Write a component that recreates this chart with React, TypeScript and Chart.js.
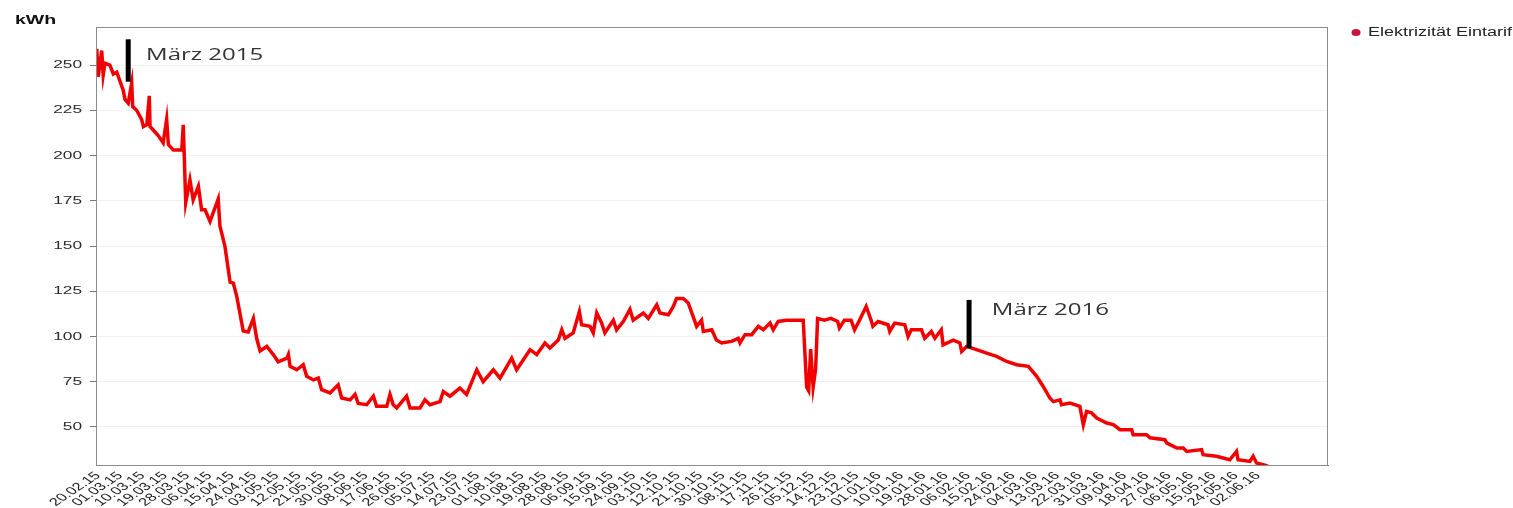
import { useEffect, useRef } from "react";
import { Chart, registerables } from "chart.js";

Chart.register(...registerables);

// Day offset since 20.02.15
const days = [
  0.3, 0.9, 2.3, 2.9, 3.6, 5.6, 7.0, 8.4, 11.0, 11.7, 13.0, 14.4, 14.8, 16.4, 18.4, 19.1, 20.5, 21.5, 21.8, 23.8,
  25.1, 27.1, 28.5, 29.2, 31.2, 34.6, 35.2, 36.2, 37.9, 39.2, 41.3, 42.6, 44.0, 46.0, 49.3, 50.0, 52.0, 54.1, 55.4, 56.8,
  59.4, 61.4, 63.5, 64.8, 66.2, 68.9, 71.5, 73.5, 77.0, 77.6, 78.3, 81.0, 83.6, 85.0, 87.7, 89.7, 91.0, 94.4, 97.7, 99.1,
  102.5, 104.5, 105.8, 109.2, 111.9, 113.2, 117.3, 118.6, 119.9, 121.3, 125.3, 126.7, 130.7, 132.7, 134.7, 138.8, 140.1, 142.8, 146.8, 149.5,
  153.6, 156.2, 160.3, 163.0, 167.7, 169.7, 175.1, 177.8, 179.9, 181.1, 183.1, 186.5, 187.9, 189.2, 192.5, 195.0, 195.9, 199.3, 200.6, 202.0,
  204.0, 205.3, 208.7, 210.0, 212.7, 215.4, 216.7, 220.8, 222.8, 226.2, 227.5, 230.9, 232.9, 234.2, 236.9, 238.9, 240.9, 242.3, 244.3, 245.0,
  248.4, 250.3, 252.4, 256.4, 259.1, 259.8, 261.8, 264.5, 267.2, 269.2, 271.9, 273.2, 275.2, 278.6, 285.3, 286.7, 287.5, 288.3, 289.3, 290.3,
  291.1, 293.8, 296.5, 299.2, 299.9, 301.9, 304.6, 306.0, 308.0, 310.7, 312.7, 313.4, 315.5, 319.5, 320.2, 322.2, 326.3, 327.6, 328.9, 333.0,
  334.3, 337.0, 338.4, 341.0, 341.7, 345.8, 348.5, 349.2, 351.2, 355.2, 359.3, 363.3, 367.4, 371.4, 376.1, 379.5, 382.1, 384.8, 386.2, 388.9,
  389.5, 392.9, 396.9, 398.3, 399.6, 401.6, 403.7, 407.7, 410.4, 413.1, 417.8, 418.4, 423.8, 425.2, 431.2, 431.9, 436.0, 438.6, 440.0, 446.0,
  446.6, 452.0, 457.4, 460.1, 460.7, 465.5, 466.8, 468.2, 472.2, 474.4,
];

const kwh = [
  259, 243.5, 258, 244.5, 251, 250, 245, 246, 236, 231, 229, 240, 227, 225, 220, 216, 217, 233, 216, 213,
  211, 207, 220, 206, 203, 203, 217, 174, 186.5, 175.5, 183, 170, 170, 163.5, 176, 161, 150, 130, 129.5, 122,
  103, 102.5, 110, 99, 92, 94.5, 90, 86, 88, 90, 83.5, 81.6, 84.4, 78, 76, 77, 70.6, 68.8, 73.3, 66,
  65, 68, 63, 62.3, 67, 61.4, 61.4, 68, 62.3, 60.5, 67, 60.5, 60.5, 65, 62.3, 64, 69.6, 67, 71.5, 68,
  81.6, 75, 81.6, 77, 88, 81.6, 92.7, 90, 94, 96.4, 93.6, 98, 103.7, 99, 102, 113.8, 106.5, 105.6, 102, 113,
  107.4, 102, 109, 103.7, 108.3, 115, 109, 113, 110, 117.5, 113, 112, 116.6, 121, 121, 118.5, 111, 105.6, 109, 102.8,
  103.7, 98, 96.4, 97.3, 99, 96.4, 101, 101, 105.6, 103.7, 107.4, 103.7, 108.3, 109, 109, 72, 70, 93, 72, 82,
  110, 109, 110, 108.3, 104.7, 109, 109, 103.7, 109, 116.6, 109, 105.6, 108.3, 106.5, 102.8, 107.4, 106.5, 100, 103.7, 103.7,
  99, 102.8, 99, 103.7, 95.4, 98, 96.4, 91.7, 94.5, 92.7, 90.8, 89, 86.2, 84.4, 83.5, 78, 72.4, 66, 64, 65,
  62.3, 63.2, 61.4, 51.3, 58.6, 57.8, 55, 52.2, 51.3, 48.5, 48.5, 45.7, 45.7, 44, 43, 41.2, 38.4, 38.4, 36.5, 37.5,
  34.7, 33.8, 31.9, 36.5, 31.9, 31, 33.8, 30.1, 28.6, 27,
];

const tickLabels = [
  "20.02.15", "01.03.15", "10.03.15", "19.03.15", "28.03.15", "06.04.15", "15.04.15", "24.04.15", "03.05.15",
  "12.05.15", "21.05.15", "30.05.15", "08.06.15", "17.06.15", "26.06.15", "05.07.15", "14.07.15", "23.07.15",
  "01.08.15", "10.08.15", "19.08.15", "28.08.15", "06.09.15", "15.09.15", "24.09.15", "03.10.15", "12.10.15",
  "21.10.15", "30.10.15", "08.11.15", "17.11.15", "26.11.15", "05.12.15", "14.12.15", "23.12.15", "01.01.16",
  "10.01.16", "19.01.16", "28.01.16", "06.02.16", "15.02.16", "24.02.16", "04.03.16", "13.03.16", "22.03.16",
  "31.03.16", "09.04.16", "18.04.16", "27.04.16", "06.05.16", "15.05.16", "24.05.16", "02.06.16",
];
const tickStepDays = 9;

const yTickValues = [50, 75, 100, 125, 150, 175, 200, 225, 250];

const seriesName = "Elektrizität Eintarif";
const unitLabel = "kWh";

const noteLabels = ["März 2015", "März 2016"];
const noteBarDays = [13.0, 352.2];
const noteBarTop = [264.2, 120.2];
const noteBarBottom = [240.8, 93.5];
const noteTextDays = [20.2, 361.4];
const noteTextValues = [255.5, 114.6];

const STRETCH = 1.5;

function stretchedText(
  ctx: CanvasRenderingContext2D,
  text: string,
  x: number,
  y: number,
  font: string,
  color: string,
  align: CanvasTextAlign,
  baseline: CanvasTextBaseline,
  angle = 0
) {
  ctx.save();
  ctx.translate(x, y);
  ctx.scale(STRETCH, 1);
  if (angle) ctx.rotate(angle);
  ctx.font = font;
  ctx.fillStyle = color;
  ctx.textAlign = align;
  ctx.textBaseline = baseline;
  ctx.fillText(text, 0, 0);
  ctx.restore();
}

const decorPlugin = {
  id: "decor",
  afterDraw(chart: any) {
    const { ctx, chartArea, scales } = chart;
    const xs = scales.x;
    const ys = scales.y;
    ctx.save();
    // frame
    ctx.strokeStyle = "#8c8c8c";
    ctx.lineWidth = 1;
    ctx.strokeRect(chartArea.left + 0.5, chartArea.top + 0.5, chartArea.right - chartArea.left - 1, chartArea.bottom - chartArea.top);

    // y labels
    yTickValues.forEach((v) => {
      const y = ys.getPixelForValue(v);
      stretchedText(ctx, String(v), chartArea.left - 14, y, "11.5px 'Liberation Sans', Arial, sans-serif", "#2a2a2a", "right", "middle");
    });

    // x labels
    tickLabels.forEach((lab, i) => {
      const x = xs.getPixelForValue(i * tickStepDays);
      stretchedText(ctx, lab, x + 2, chartArea.bottom + 9, "11px 'Liberation Sans', Arial, sans-serif", "#222", "right", "middle", -Math.PI / 4);
    });

    // unit
    stretchedText(ctx, unitLabel, 15, 20, "bold 13px 'Liberation Sans', Arial, sans-serif", "#111", "left", "middle");

    // legend
    ctx.fillStyle = "#c8143c";
    ctx.beginPath();
    ctx.ellipse(1356, 32.5, 4.5, 3.5, 0, 0, Math.PI * 2);
    ctx.fill();
    stretchedText(ctx, seriesName, 1368, 33, "12px 'Liberation Sans', Arial, sans-serif", "#222", "left", "middle");

    // annotations
    noteLabels.forEach((lab, i) => {
      const bx = xs.getPixelForValue(noteBarDays[i]);
      const t = ys.getPixelForValue(noteBarTop[i]);
      const b = ys.getPixelForValue(noteBarBottom[i]);
      ctx.fillStyle = "#000";
      ctx.fillRect(bx - 2.5, t, 5, b - t);
      stretchedText(
        ctx,
        lab,
        xs.getPixelForValue(noteTextDays[i]),
        ys.getPixelForValue(noteTextValues[i]),
        "16px 'Open Sans', sans-serif",
        "#333",
        "left",
        "middle"
      );
    });
    ctx.restore();
  },
};

export default function App() {
  const ref = useRef<HTMLCanvasElement | null>(null);
  useEffect(() => {
    if (!ref.current) return;
    const chart = new Chart(ref.current, {
      type: "line",
      data: {
        datasets: [
          {
            label: seriesName,
            data: days.map((d, i) => ({ x: d, y: kwh[i] })),
            borderColor: "#f20000",
            backgroundColor: "#f20000",
            borderWidth: 3.5,
            pointRadius: 0,
            tension: 0,
            borderJoinStyle: "miter",
          },
        ],
      },
      options: {
        animation: false,
        responsive: true,
        maintainAspectRatio: false,
        layout: { padding: { left: 0, right: 185, top: 27, bottom: 0 } },
        plugins: { legend: { display: false }, tooltip: { enabled: false } },
        scales: {
          x: {
            type: "linear",
            min: 0,
            max: 497,
            ticks: { display: false, stepSize: tickStepDays },
            grid: { display: false },
            border: { color: "#777" },
            afterFit: (s: any) => {
              s.height = 43;
            },
          },
          y: {
            min: 29,
            max: 271,
            afterBuildTicks: (ax: any) => {
              ax.ticks = yTickValues.map((v) => ({ value: v }));
            },
            ticks: { display: false },
            grid: { color: "#f1f1f1", tickColor: "#777", tickLength: 6 },
            border: { color: "#777" },
            afterFit: (s: any) => {
              s.width = 96;
            },
          },
        },
      },
      plugins: [decorPlugin],
    } as any);
    return () => chart.destroy();
  }, []);
  return (
    <div style={{ position: "fixed", left: 0, top: 0, width: "100vw", height: "100vh", background: "#fff" }}>
      <canvas ref={ref} />
    </div>
  );
}
